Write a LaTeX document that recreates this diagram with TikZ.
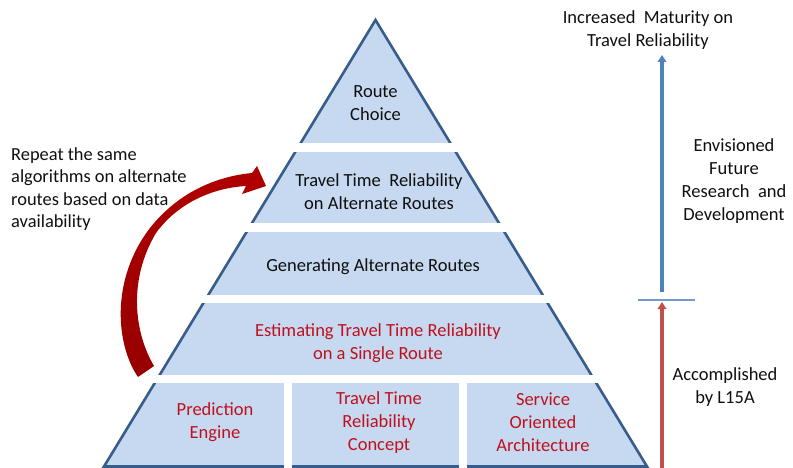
\documentclass[tikz,border=0pt]{standalone}
\usepackage{fontspec}
\setmainfont{Carlito}
\usetikzlibrary{arrows.meta}
\definecolor{pyrfill}{RGB}{198,217,240}
\definecolor{pyrline}{RGB}{56,93,138}
\definecolor{txtred}{RGB}{192,16,28}
\definecolor{txtblk}{RGB}{15,15,15}
\definecolor{arrblue}{RGB}{79,129,189}
\definecolor{arrred}{RGB}{192,80,77}
\definecolor{darkred}{RGB}{176,0,0}
\tikzset{
  lbl/.style={align=center, inner sep=0pt, text=txtblk, font=\fontsize{18.5}{23}\selectfont},
  redlbl/.style={lbl, text=txtred},
  gap/.style={fill=white, draw=none},
  vtarrow/.style={line width=3.5pt, -{Triangle[width=8.5pt,length=7pt]}},
}
\begin{document}
\begin{tikzpicture}[x=1pt,y=-1pt]
\useasboundingbox (0,0) rectangle (793,468);
% pyramid
\coordinate (apex) at (375.5,20);
\coordinate (bl) at (104,466.5);
\coordinate (br) at (647,466.5);
\filldraw[fill=pyrfill, draw=pyrline, line width=2.6pt, line join=miter] (apex) -- (br) -- (bl) -- cycle;
% horizontal gaps
\fill[gap] (90,143) rectangle (660,151.7);
\fill[gap] (90,222.7) rectangle (660,231.7);
\fill[gap] (90,295) rectangle (660,303);
\fill[gap] (90,375) rectangle (660,383.3);
% vertical gaps in base layer
\fill[gap] (284,383) rectangle (291.7,470);
\fill[gap] (459,383) rectangle (466.7,470);
% labels
\node[lbl] (rc) at (375.5,103.5) {Route\\Choice};
\node[lbl] (ttr) at (379,191.5) {Travel Time~ Reliability\\on Alternate Routes};
\node[lbl] (gen) at (373,267) {Generating Alternate Routes};
\node[redlbl] (est) at (378,343.5) {Estimating Travel Time Reliability\\on a Single Route};
\node[redlbl] (pe) at (215,422.5) {Prediction\\Engine};
\node[redlbl] (ttc) at (379,422.5) {Travel Time\\Reliability\\Concept};
\node[redlbl] (soa) at (543,422.5) {Service\\Oriented\\Architecture};
% left note
\node[lbl, align=left, anchor=west, font=\fontsize{18.4}{22.5}\selectfont] (note) at (11,189) {Repeat the same\\algorithms on alternate\\routes based on data\\availability};
% curved arrow
\path[top color=darkred, middle color={rgb,255:red,236;green,180;blue,180}, bottom color={rgb,255:red,150;green,0;blue,0}]
  (138,377) .. controls (116,345) and (110,280) .. (150,228)
  .. controls (180,190) and (220,176) .. (252,173)
  -- (257,166) -- (266,186) -- (242,194) -- (246,186)
  .. controls (212,188) and (178,203) .. (156,233)
  .. controls (128,280) and (134,332) .. (154,366) -- cycle;
% right side
\node[lbl] (mat) at (648,30) {Increased~ Maturity on\\Travel Reliability};
\node[lbl] (env) at (734,181) {Envisioned\\Future\\Research~ and\\Development};
\node[lbl] (acc) at (725,387) {Accomplished\\by L15A};
\coordinate (blueS) at (662,292);
\coordinate (blueE) at (662,55);
\coordinate (redS) at (662,470);
\coordinate (redE) at (662,302);
\coordinate (tickL) at (638,300);
\coordinate (tickR) at (695,300);
\draw[vtarrow, arrblue] (blueS) -- (blueE);
\draw[vtarrow, arrred] (redS) -- (redE);
\draw[arrblue!80, line width=1.4pt] (tickL) -- (tickR);
\end{tikzpicture}
\end{document}
